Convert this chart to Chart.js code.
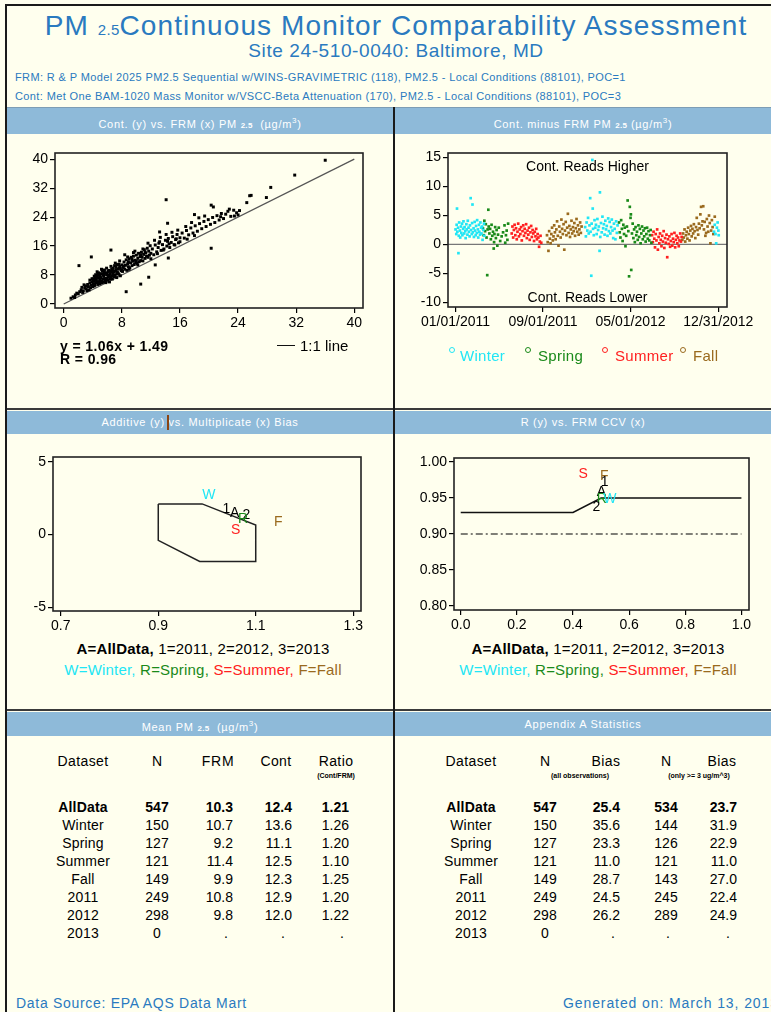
<!DOCTYPE html>
<html>
<head>
<meta charset="utf-8">
<title>PM2.5 Continuous Monitor Comparability Assessment</title>
<script src="https://cdn.jsdelivr.net/npm/chart.js@4.4.1/dist/chart.umd.min.js"></script>
<style>
html,body{margin:0;padding:0}
body{width:771px;height:1012px;position:relative;overflow:hidden;background:#FFFFEE;font-family:"Liberation Sans",Arial,Helvetica,sans-serif;color:#000}
.a{position:absolute;white-space:nowrap}
.ln{position:absolute;background:#1a1a1a}
.hdr{position:absolute;background:#8EBAD9;color:#fff;font-size:11px;letter-spacing:0.7px;text-align:center;border-top:1px solid #7d9db5}
.blue{color:#2A7AC0}
canvas{position:absolute}
.c{text-align:center}
.sub{font-size:8px;font-weight:bold;letter-spacing:0.3px}
</style>
</head>
<body>
<!-- frame -->
<div class="ln" style="left:5px;top:4px;width:2px;height:1008px"></div>
<div class="ln" style="left:5px;top:4px;width:766px;height:2px"></div>

<div class="a blue c" style="left:0;width:792px;top:10px;font-size:28px;line-height:32px;letter-spacing:1.1px">PM <span style="font-size:15px;letter-spacing:0.3px">2.5</span>Continuous Monitor Comparability Assessment</div>
<div class="a blue c" style="left:0;width:792px;top:40px;font-size:19px;line-height:21px;letter-spacing:0.6px">Site 24-510-0040: Baltimore, MD</div>
<div class="a blue" style="left:15px;top:70px;font-size:11px;line-height:14px;letter-spacing:0.38px">FRM: R &amp; P Model 2025 PM2.5 Sequential w/WINS-GRAVIMETRIC (118), PM2.5 - Local Conditions (88101), POC=1</div>
<div class="a blue" style="left:15px;top:89px;font-size:11px;line-height:14px;letter-spacing:0.38px">Cont: Met One BAM-1020 Mass Monitor w/VSCC-Beta Attenuation (170), PM2.5 - Local Conditions (88101), POC=3</div>

<!-- header bars -->
<div class="hdr" style="left:7px;top:107px;width:386px;height:26px;line-height:26px">Cont. (y) vs. FRM (x) PM <span class="sub">2.5</span> &nbsp;(µg/m<sup style="font-size:8px">3</sup>)</div>
<div class="hdr" style="left:395px;top:107px;width:376px;height:26px;line-height:26px">Cont. minus FRM PM <span class="sub">2.5</span> (µg/m<sup style="font-size:8px">3</sup>)</div>
<div class="hdr" style="left:7px;top:411px;width:386px;height:23px;line-height:23px;border-top:none">Additive (y) vs. Multiplicate (x) Bias</div>
<div class="a" style="left:167px;top:415px;width:1.5px;height:15px;background:#8B4513"></div>
<div class="hdr" style="left:395px;top:411px;width:376px;height:23px;line-height:23px;border-top:none">R (y) vs. FRM CCV (x)</div>
<div class="hdr" style="left:7px;top:712px;width:386px;height:24px;line-height:24px;border-top:none">Mean PM <span class="sub">2.5</span> &nbsp;(µg/m<sup style="font-size:8px">3</sup>)</div>
<div class="hdr" style="left:395px;top:712px;width:376px;height:24px;line-height:24px;border-top:none">Appendix A Statistics</div>

<!-- dividers -->
<div class="ln" style="left:7px;top:408px;width:764px;height:2px;background:#3a3a3a"></div>
<div class="ln" style="left:7px;top:709px;width:764px;height:2px;background:#3a3a3a"></div>
<div class="ln" style="left:393px;top:107px;width:2px;height:905px"></div>

<canvas id="c1" width="370" height="200" style="left:10px;top:140px"></canvas>
<canvas id="c2" width="370" height="200" style="left:400px;top:140px"></canvas>
<canvas id="c3" width="370" height="195" style="left:10px;top:445px"></canvas>
<canvas id="c4" width="370" height="195" style="left:400px;top:445px"></canvas>

<!-- scatter annotations -->
<div class="a" style="left:60px;top:339px;font-size:14px;line-height:15px;font-weight:bold;letter-spacing:0.4px">y = 1.06x + 1.49</div>
<div class="a" style="left:60px;top:352px;font-size:14px;line-height:15px;font-weight:bold;letter-spacing:0.4px">R = 0.96</div>
<div class="a" style="left:277px;top:345px;width:18px;height:1.3px;background:#111"></div>
<div class="a" style="left:300px;top:338px;font-size:15px;line-height:16px">1:1 line</div>

<!-- time series legend -->
<div id="tsLegend"></div>

<!-- bias plot captions -->
<div class="a c" style="left:3px;width:400px;top:640px;font-size:15px;line-height:18px;letter-spacing:0.2px"><b>A=AllData,</b> 1=2011, 2=2012, 3=2013</div>
<div class="a c" style="left:3px;width:400px;top:661px;font-size:15px;line-height:18px;letter-spacing:0.2px"><span style="color:#22E6F5">W=Winter,</span> <span style="color:#1A8A1A">R=Spring,</span> <span style="color:#FF2020">S=Summer,</span> <span style="color:#9A6A1E">F=Fall</span></div>
<div class="a c" style="left:398px;width:400px;top:640px;font-size:15px;line-height:18px;letter-spacing:0.2px"><b>A=AllData,</b> 1=2011, 2=2012, 3=2013</div>
<div class="a c" style="left:398px;width:400px;top:661px;font-size:15px;line-height:18px;letter-spacing:0.2px"><span style="color:#22E6F5">W=Winter,</span> <span style="color:#1A8A1A">R=Spring,</span> <span style="color:#FF2020">S=Summer,</span> <span style="color:#9A6A1E">F=Fall</span></div>

<div id="tables"></div>

<div class="a blue" style="left:16px;top:994px;font-size:14px;line-height:18px;letter-spacing:0.7px">Data Source: EPA AQS Data Mart</div>
<div class="a blue" style="left:563px;top:994px;font-size:14px;line-height:18px;letter-spacing:0.9px">Generated on: March 13, 2013</div>

<script>
// ---------------- DATA ----------------
// Scatter: [FRM, Cont] daily PM2.5 pairs (ug/m3)
const scatterPoints = [
[1.0,1.6],[1.3,2.0],[1.5,1.8],[1.6,2.5],[1.8,3.0],[2.0,2.8],[2.2,3.4],[2.4,3.9],[2.5,4.6],[2.6,3.2],[2.7,3.6],[2.8,5.3],[2.9,4.4],[3.0,5.0],[3.1,4.2],[3.2,3.7],[3.3,5.4],[3.4,4.8],[3.5,3.9],[3.6,5.8],[3.7,4.5],[3.8,5.2],[3.9,6.1],[4.0,4.8],
[4.1,5.6],[4.2,6.4],[4.3,7.2],[4.4,5.9],[4.5,6.8],[4.6,7.6],[4.7,5.4],[4.8,6.2],[4.9,7.9],[5.0,6.6],[5.1,7.3],[5.2,8.4],[5.3,5.9],[5.4,6.9],[5.5,7.7],[5.6,8.9],[5.7,6.3],[5.8,7.1],[5.9,8.1],[6.0,6.8],[6.1,7.5],[6.2,9.3],[6.3,6.1],[6.4,8.4],[6.5,7.4],[6.6,9.6],[6.7,6.9],[6.8,8.2],[6.9,7.6],[7.0,9.1],[7.1,8.0],[7.2,10.1],[7.3,7.3],[7.4,8.7],[7.5,9.6],[7.6,8.2],[7.7,10.4],[7.8,7.8],[7.9,9.2],[8.0,10.8],
[4.3,5.2],[4.6,6.0],[4.9,5.8],[5.2,6.4],[5.5,6.1],[5.8,6.5],[6.1,6.6],[6.4,7.0],[6.7,7.8],[7.0,7.6],[7.3,8.4],[7.6,9.9],[4.4,8.1],[4.8,8.6],[5.3,9.2],[5.9,9.9],[6.5,10.4],[7.1,11.3],[7.7,11.9],[5.0,5.6],[5.6,7.0],[6.2,7.9],[6.8,9.9],[7.4,10.9],[4.2,7.7],[5.4,8.0],[6.0,8.6],[6.6,8.8],[7.2,9.4],[7.8,9.9],
[4.1,6.9],[4.5,7.3],[4.7,8.3],[5.1,6.0],[5.7,8.5],[6.3,7.7],[6.9,8.9],[4.0,6.3],[4.4,6.6],[5.0,7.8],[5.5,8.3],[6.1,9.0],[6.7,9.3],[7.5,8.4],
[3.9,7.0],[4.2,5.0],[4.6,8.9],[5.2,9.6],[5.8,5.9],[6.4,9.1],[7.0,10.6],[7.6,11.0],[8.0,9.4],[3.6,6.6],[4.9,7.1],[5.6,9.4],
[8.1,9.0],[8.2,10.1],[8.3,11.6],[8.4,9.6],[8.5,10.7],[8.6,12.2],[8.7,9.3],[8.8,11.1],[8.9,10.3],[9.0,12.5],[9.1,10.0],[9.2,11.4],[9.3,12.9],[9.4,10.6],[9.5,11.8],[9.6,13.2],[9.7,10.9],[9.8,12.1],[9.9,11.4],[10.0,13.5],[10.1,11.2],[10.2,12.6],[10.3,14.0],[10.4,11.7],[10.5,13.1],[10.6,12.0],[10.7,14.3],[10.8,12.9],[10.9,11.9],[11.0,13.7],[11.1,15.0],[11.2,12.6],[11.3,14.1],[11.4,13.2],[11.5,15.4],[11.6,12.9],[11.7,14.6],[11.8,13.5],[11.9,16.1],[12.0,14.0],[8.4,13.6],[9.0,9.6],[9.6,14.2],[10.2,10.8],[10.9,15.2],[11.6,16.8],[8.8,13.0],[9.8,14.6],[12.0,12.5],[8.3,10.5],[8.9,11.7],[9.4,12.3],[10.0,11.9],[10.6,13.6],[11.2,14.4],
[12.2,15.2],[12.4,13.6],[12.6,16.3],[12.8,14.4],[13.0,15.6],[13.2,17.2],[13.4,14.8],[13.6,16.4],[13.8,15.2],[14.0,17.6],[14.2,16.0],[14.4,18.1],[14.6,15.6],[14.8,17.0],[15.0,18.6],[15.2,16.4],[15.4,17.8],[15.6,19.2],[15.8,16.9],[16.0,18.3],[12.5,17.6],[13.3,18.4],[14.1,19.2],[14.9,19.8],[15.7,20.4],[12.9,13.9],[13.7,14.9],[14.5,16.6],[15.3,16.3],[16.0,17.2],[13.1,16.8],[14.3,17.3],[15.5,18.0],
[16.3,19.6],[16.6,18.2],[16.9,20.3],[17.2,19.1],[17.5,21.0],[17.8,19.6],[18.1,21.6],[18.4,20.1],[18.7,22.2],[19.0,20.8],[19.3,22.8],[19.6,21.4],[19.9,23.3],[20.2,22.0],[20.5,23.9],[20.8,22.5],[21.1,24.4],[21.4,23.2],[21.7,25.0],[22.0,23.6],[16.8,21.4],[17.6,22.5],[18.0,18.9],[18.6,23.8],[19.4,24.3],[17.0,17.9],[22.3,24.8],[22.6,25.6],[23.0,24.2],[23.4,25.9],[23.8,25.2],[24.2,25.8],[24.0,24.6],[21.6,24.1],[22.8,26.2],
[36.0,39.7],[31.8,35.6],[28.5,32.2],[27.9,29.4],[25.6,29.9],[25.2,28.0],[25.8,30.0],[14.1,28.8],[20.3,27.3],[20.6,26.8],[2.1,10.6],[3.8,13.0],[6.5,14.9],[8.6,3.4],[10.6,5.5],[11.7,7.4],[20.3,15.4],[14.3,22.3],[12.6,10.8],[14.4,12.7],[23.5,24.3],[18.0,24.7],[13.2,19.9]
];
const oneToOneLine = [[0,0],[40,40]];
const scatterTicks = [0,8,16,24,32,40];

// Time series: [days since 01/01/2011, Cont - FRM (ug/m3)]
const winterPts = [
[0,2.6],[2,1.8],[3,3.4],[4,6.2],[5,2.2],[7,2.9],[8,-1.5],[9,1.5],[10,3.8],[12,2.4],[13,1.2],[15,3.1],[16,2.0],[18,3.6],[19,1.6],[21,2.7],[22,4.0],[24,1.9],[25,3.0],[27,2.3],[28,1.1],[30,3.5],[31,2.6],[33,1.7],[34,4.1],[36,2.9],[37,2.2],[39,1.4],[40,3.3],[42,8.0],[43,2.5],[45,1.8],[46,3.7],[47,6.9],[48,2.1],[50,2.8],[51,1.3],[53,3.9],[54,2.4],[56,1.6],[57,3.2],[59,2.0],[60,4.2],[62,2.6],[63,1.2],[65,3.4],[66,2.2],[68,1.7],[69,3.8],[71,2.9],[72,1.9],[74,3.1],[75,0.8],[77,2.5],[79,3.6],[80,1.5],
[360,3.0],[362,1.4],[364,3.8],[366,2.4],[368,4.6],[370,1.9],[372,3.3],[374,8.0],[375,2.2],[377,-5.4],[378,3.6],[380,14.6],[381,6.2],[382,2.7],[384,1.6],[386,4.2],[388,2.9],[390,3.4],[392,1.8],[394,4.4],[396,2.5],[398,3.1],[400,-1.1],[401,9.0],[402,1.3],[404,3.7],[406,2.1],[408,4.8],[410,2.8],[412,3.5],[414,1.7],[416,4.1],[418,2.6],[420,3.2],[422,1.5],[424,4.5],[426,2.3],[428,3.9],[430,1.9],[432,3.0],[434,4.3],[436,2.4],[438,1.1],[440,3.6],[442,2.7],[444,0.9],[446,4.0],[448,2.0],[450,3.3],
[718,2.2],[720,3.4],[722,1.8],[724,0.2],[726,2.9],[728,3.8],[730,2.4],[731,1.6]
];
const springPts = [
[76,2.8],[78,1.6],[80,4.1],[82,2.3],[84,3.5],[86,1.2],[88,-5.3],[89,2.6],[91,6.0],[92,3.1],[94,1.9],[96,2.7],[98,0.9],[100,3.4],[102,1.5],[104,2.2],[106,-0.7],[107,0.4],[108,1.8],[110,3.0],[112,1.1],[114,2.5],[116,-0.2],[118,1.7],[120,2.9],[124,0.6],[128,1.4],[132,2.1],[136,3.3],[138,0.3],[140,1.6],[142,2.4],[144,0.8],[146,3.6],
[454,3.8],[456,2.1],[458,1.2],[460,4.2],[462,2.7],[464,0.6],[466,3.4],[468,1.8],[470,2.9],[472,-0.3],[474,1.5],[476,3.1],[478,7.6],[480,2.3],[482,-5.5],[484,6.5],[486,4.6],[487,5.2],[488,-4.4],[490,1.9],[492,3.6],[494,1.1],[496,2.6],[498,0.4],[500,3.0],[502,1.6],[504,2.2],[506,0.8],[508,3.3],[510,1.3],[512,2.7],[514,0.2],[516,1.9],[518,3.1],[520,0.9],[522,2.4],[524,1.4],[526,2.8],[528,0.5],[530,1.8],[532,2.9],[534,1.0],[536,2.3],[538,0.7],[540,1.6],[542,2.5],[544,0.3]
];
const summerPts = [
[156,1.9],[158,3.1],[160,1.2],[162,2.5],[164,3.4],[166,1.6],[168,2.8],[170,0.9],[172,2.2],[174,3.6],[176,1.4],[178,2.6],[180,1.8],[182,3.0],[184,0.7],[186,2.3],[188,3.3],[190,1.5],[192,2.7],[194,2.0],[196,3.5],[198,1.1],[200,2.4],[202,1.7],[204,2.9],[206,0.8],[208,2.1],[210,3.2],[212,1.3],[214,2.5],[216,1.9],[218,0.6],[220,2.2],[222,1.4],[224,2.7],[226,0.9],[228,1.8],[230,1.2],[232,-0.4],[234,0.5],[236,1.5],[238,0.3],
[546,1.6],[548,0.4],[550,2.2],[552,1.0],[554,-0.5],[556,1.8],[558,0.7],[560,2.6],[562,-0.9],[564,1.3],[566,0.2],[568,1.9],[570,0.8],[572,-0.3],[574,1.5],[576,0.5],[578,2.3],[580,-0.6],[582,1.1],[584,0.3],[586,1.7],[588,-2.2],[590,0.9],[592,0.1],[594,1.4],[596,-0.4],[598,0.6],[600,1.8],[602,-0.2],[604,1.0],[606,0.4],[608,2.0],[610,-0.5],[612,0.8],[614,1.5],[616,0.2],[618,1.2],[620,-0.3],[622,0.7],[624,1.9],[626,0.5],[628,1.3]
];
const fallPts = [
[254,1.6],[256,0.4],[258,-1.1],[260,2.3],[262,1.0],[264,0.2],[266,1.8],[268,2.9],[270,0.7],[272,1.4],[274,3.3],[276,2.1],[278,0.9],[280,2.6],[282,4.0],[284,1.5],[286,-0.2],[288,3.1],[290,2.2],[292,1.2],[294,4.3],[296,2.7],[298,1.8],[300,3.5],[302,-0.9],[304,2.4],[306,3.9],[308,1.6],[310,2.9],[312,5.3],[314,2.0],[316,3.2],[318,1.3],[320,2.6],[322,4.1],[324,1.9],[326,3.0],[328,2.3],[330,3.7],[332,1.5],[334,2.8],[336,4.4],[338,2.2],[340,3.3],[342,1.7],[344,2.6],[346,3.8],[348,2.0],[350,3.1],
[630,0.8],[632,1.9],[634,1.2],[636,2.6],[638,0.5],[640,1.6],[642,2.2],[644,1.0],[646,2.9],[648,1.8],[650,0.7],[652,2.4],[654,3.2],[656,1.4],[658,2.7],[660,1.9],[662,3.5],[664,2.3],[666,1.1],[668,3.0],[670,4.6],[672,2.5],[674,1.7],[676,3.6],[678,2.8],[680,5.2],[682,6.5],[684,3.3],[686,4.0],[688,6.6],[690,2.6],[692,3.9],[694,1.5],[696,2.0],[698,4.4],[700,3.1],[702,2.2],[704,5.0],[706,3.7],[708,0.2],[710,2.4],[712,4.2],[714,3.0],[716,1.8],[720,4.8]
];
const diffTicks = [-10,-5,0,5,10,15];
const dateTickDays = [0,243,486,730];
const dateTickLabels = ['01/01/2011','09/01/2011','05/01/2012','12/31/2012'];

// Additive vs multiplicative bias
const accSlope     = [0.9, 0.99, 1.1, 1.1, 0.985, 0.9, 0.9];
const accIntercept = [2.1, 2.1, 0.65, -1.85, -1.85, -0.4, 2.1];
const biasLabels    = ['W','1','A','2','R','S','F'];
const biasSlope     = [1.004,1.040,1.057,1.081,1.074,1.059,1.146];
const biasIntercept = [2.68,1.72,1.49,1.30,1.08,0.30,0.85];
const slopeTicks = [0.7,0.9,1.1,1.3];
const interceptTicks = [-5,0,5];

// R vs FRM CCV
const ccvLineX = [0,0.4,0.5,1.0];
const ccvLineR = [0.93,0.93,0.95,0.95];
const ccvRefX = [0,1.0];
const ccvRefR = [0.90,0.90];
const ccvLabels = ['S','F','1','A','R','W','2'];
const ccvValues = [0.436,0.511,0.513,0.501,0.503,0.531,0.483];
const rValues   = [0.9825,0.980,0.9723,0.9584,0.948,0.948,0.9376];
const ccvTicks = [0,0.2,0.4,0.6,0.8,1.0];
const rTicks = [0.80,0.85,0.90,0.95,1.00];

// Tables
const datasets = ['AllData','Winter','Spring','Summer','Fall','2011','2012','2013'];
const meanN     = ['547','150','127','121','149','249','298','0'];
const meanFRM   = ['10.3','10.7','9.2','11.4','9.9','10.8','9.8','.'];
const meanCont  = ['12.4','13.6','11.1','12.5','12.3','12.9','12.0','.'];
const meanRatio = ['1.21','1.26','1.20','1.10','1.25','1.20','1.22','.'];
const appxN     = ['547','150','127','121','149','249','298','0'];
const appxBias  = ['25.4','35.6','23.3','11.0','28.7','24.5','26.2','.'];
const appxN3    = ['534','144','126','121','143','245','289','.'];
const appxBias3 = ['23.7','31.9','22.9','11.0','27.0','22.4','24.9','.'];

// -------------- COLOURS / FONTS --------------
const seasonColor = {W:'#22E6F5', R:'#1A8A1A', S:'#FF2020', F:'#9A6A1E'};
const FONT = '"Liberation Sans", Arial, sans-serif';

// -------------- PLUGINS --------------
const framePlugin = {
  id:'frame',
  afterDraw(chart){
    const a = chart.chartArea, ctx = chart.ctx;
    ctx.save(); ctx.strokeStyle='#222'; ctx.lineWidth=1.6;
    ctx.strokeRect(a.left, a.top, a.right-a.left, a.bottom-a.top);
    ctx.restore();
  }
};
const letterPlugin = {
  id:'letters',
  afterDatasetsDraw(chart, args, opts){
    if(!opts || !opts.items) return;
    const ctx = chart.ctx, sx = chart.scales.x, sy = chart.scales.y;
    ctx.save();
    ctx.font = '14px ' + FONT; ctx.textAlign='center'; ctx.textBaseline='middle';
    opts.items.forEach(it => {
      ctx.fillStyle = seasonColor[it.t] || '#000';
      ctx.fillText(it.t, sx.getPixelForValue(it.x), sy.getPixelForValue(it.y));
    });
    ctx.restore();
  }
};
const tsPlugin = {
  id:'tsNotes',
  beforeDatasetsDraw(chart){
    const a = chart.chartArea, ctx = chart.ctx, y0 = chart.scales.y.getPixelForValue(0);
    ctx.save(); ctx.strokeStyle='#777'; ctx.lineWidth=1.2;
    ctx.beginPath(); ctx.moveTo(a.left, y0); ctx.lineTo(a.right, y0); ctx.stroke();
    ctx.restore();
  },
  afterDatasetsDraw(chart){
    const a = chart.chartArea, ctx = chart.ctx, cx = (a.left+a.right)/2;
    ctx.save(); ctx.fillStyle='#000'; ctx.font='14px ' + FONT; ctx.textAlign='center'; ctx.textBaseline='middle';
    ctx.fillText('Cont. Reads Higher', cx, a.top + 14);
    ctx.fillText('Cont. Reads Lower', cx, a.bottom - 9);
    ctx.restore();
  }
};

function axis(min, max, tickVals, fmt, size, isX){
  return {
    type:'linear', min:min, max:max,
    afterBuildTicks: s => { s.ticks = tickVals.map(v => ({value:v})); },
    afterFit: s => { if(isX) s.height = size; else s.width = size; },
    grid:{display:true, drawOnChartArea:false, drawTicks:true, tickLength:5, color:'#000', tickColor:'#000', lineWidth:1.2},
    border:{display:false},
    ticks:{color:'#000', font:{family:FONT, size:14}, padding:2, autoSkip:false, maxRotation:0, callback: fmt}
  };
}
function baseOpts(pad, scales, plugins){
  return {
    responsive:false, animation:false, devicePixelRatio:1,
    layout:{padding:pad},
    plugins:Object.assign({legend:{display:false}, tooltip:{enabled:false}}, plugins||{}),
    scales:scales
  };
}

// Chart 1: Cont vs FRM scatter
new Chart(document.getElementById('c1'), {
  type:'scatter',
  data:{datasets:[
    {data:scatterPoints.map(p=>({x:p[0],y:p[1]})), pointStyle:'rect', pointRadius:2.1, backgroundColor:'#000', borderWidth:0},
    {type:'line', data:oneToOneLine.map(p=>({x:p[0],y:p[1]})), borderColor:'#555', borderWidth:1.2, pointRadius:0, fill:false}
  ]},
  options: baseOpts({left:0,right:17,top:13,bottom:0}, {
    x: axis(-1.2, 41.2, scatterTicks, v=>String(v), 32, true),
    y: axis(-1.1, 41.7, scatterTicks, v=>String(v), 45, false)
  }),
  plugins:[framePlugin]
});

// Chart 2: Cont minus FRM time series
const tsSets = [[winterPts,'W'],[springPts,'R'],[summerPts,'S'],[fallPts,'F']].map(([pts,k]) => ({
  data: pts.map(p=>({x:p[0],y:p[1]})), pointStyle:'rect', pointRadius:1.9, backgroundColor:seasonColor[k], borderWidth:0
}));
new Chart(document.getElementById('c2'), {
  type:'scatter',
  data:{datasets:tsSets},
  options: baseOpts({left:0,right:43,top:13,bottom:0}, {
    x: axis(-21, 754, dateTickDays, (v)=>dateTickLabels[dateTickDays.indexOf(v)], 33, true),
    y: axis(-10.8, 15.8, diffTicks, v=>String(v), 48, false)
  }),
  plugins:[tsPlugin, framePlugin]
});

// Chart 3: additive vs multiplicative bias
new Chart(document.getElementById('c3'), {
  type:'scatter',
  data:{datasets:[
    {type:'line', data:accSlope.map((s,i)=>({x:s,y:accIntercept[i]})), borderColor:'#222', borderWidth:1.5, pointRadius:0, fill:false, tension:0}
  ]},
  options: baseOpts({left:0,right:19,top:12,bottom:0}, {
    x: axis(0.684, 1.316, slopeTicks, v=>v.toFixed(1), 29, true),
    y: axis(-5.25, 5.32, interceptTicks, v=>String(v), 43, false)
  }, {letters:{items:biasLabels.map((t,i)=>({t:t,x:biasSlope[i],y:biasIntercept[i]}))}}),
  plugins:[letterPlugin, framePlugin]
});

// Chart 4: R vs FRM CCV
new Chart(document.getElementById('c4'), {
  type:'scatter',
  data:{datasets:[
    {type:'line', data:ccvLineX.map((x,i)=>({x:x,y:ccvLineR[i]})), borderColor:'#111', borderWidth:1.5, pointRadius:0, fill:false, tension:0},
    {type:'line', data:ccvRefX.map((x,i)=>({x:x,y:ccvRefR[i]})), borderColor:'#000', borderWidth:1.2, borderDash:[7,3,2,3], pointRadius:0, fill:false}
  ]},
  options: baseOpts({left:0,right:21,top:13,bottom:0}, {
    x: axis(-0.024, 1.027, ccvTicks, v=>v.toFixed(1), 30, true),
    y: axis(0.7945, 1.0055, rTicks, v=>v.toFixed(2), 54, false)
  }, {letters:{items:ccvLabels.map((t,i)=>({t:t,x:ccvValues[i],y:rValues[i]}))}}),
  plugins:[letterPlugin, framePlugin]
});

// -------------- LEGEND (time series) --------------
const leg = document.getElementById('tsLegend');
[['Winter','W',452,460],['Spring','R',528,538],['Summer','S',605,615],['Fall','F',683,693]].forEach(([txt,k,cx,tx]) => {
  const c = document.createElement('div');
  c.className='a';
  c.style.cssText = `left:${cx-3}px;top:347px;width:4px;height:4px;border:1.2px solid ${seasonColor[k]};border-radius:50%`;
  leg.appendChild(c);
  const t = document.createElement('div');
  t.className='a'; t.textContent = txt;
  t.style.cssText = `left:${tx}px;top:347px;font-size:15px;line-height:18px;color:${seasonColor[k]};letter-spacing:0.3px`;
  leg.appendChild(t);
});

// -------------- TABLES --------------
const tbl = document.getElementById('tables');
function cell(txt, x, y, align, extra){
  const d = document.createElement('div');
  d.className='a'; d.textContent = txt;
  let css = `top:${y-9}px;line-height:18px;font-size:14px;`;
  if(align==='c') css += `left:${x-70}px;width:140px;text-align:center;`;
  else css += `left:${x-140}px;width:140px;text-align:right;`;
  d.style.cssText = css + (extra||'');
  tbl.appendChild(d);
}
function small(txt, x, y){
  const d = document.createElement('div');
  d.className='a'; d.textContent = txt;
  d.style.cssText = `left:${x-70}px;width:140px;text-align:center;top:${y-5}px;line-height:10px;font-size:7px;font-weight:bold;`;
  tbl.appendChild(d);
}
const hy = 761;
// Mean table
cell('Dataset',83,hy,'c','letter-spacing:0.4px'); cell('N',157,hy,'c'); cell('FRM',218,hy,'c','letter-spacing:0.8px'); cell('Cont',276,hy,'c','letter-spacing:0.4px'); cell('Ratio',336,hy,'c','letter-spacing:0.4px');
small('(Cont/FRM)',336,776);
// Appendix table
cell('Dataset',471,hy,'c','letter-spacing:0.4px'); cell('N',545,hy,'c'); cell('Bias',606,hy,'c','letter-spacing:0.4px'); cell('N',666,hy,'c'); cell('Bias',722,hy,'c','letter-spacing:0.4px');
small('(all observations)',580,776); small('(only >= 3 ug/m^3)',699,776);

datasets.forEach((name,i) => {
  const y = 807 + i*18.0;
  const b = i===0 ? 'font-weight:bold;' : '';
  cell(name,83,y,'c',b+'letter-spacing:0.2px');
  cell(meanN[i],157,y,'c',b);
  meanFRM[i]==='.'   ? cell('.',226,y,'c') : cell(meanFRM[i],233,y,'r',b);
  meanCont[i]==='.'  ? cell('.',283,y,'c') : cell(meanCont[i],292,y,'r',b);
  meanRatio[i]==='.' ? cell('.',342,y,'c') : cell(meanRatio[i],349,y,'r',b);

  cell(name,471,y,'c',b+'letter-spacing:0.2px');
  cell(appxN[i],545,y,'c',b);
  appxBias[i]==='.'  ? cell('.',613,y,'c') : cell(appxBias[i],620,y,'r',b);
  appxN3[i]==='.'    ? cell('.',668,y,'c') : cell(appxN3[i],666,y,'c',b);
  appxBias3[i]==='.' ? cell('.',728,y,'c') : cell(appxBias3[i],737,y,'r',b);
});
</script>
</body>
</html>
